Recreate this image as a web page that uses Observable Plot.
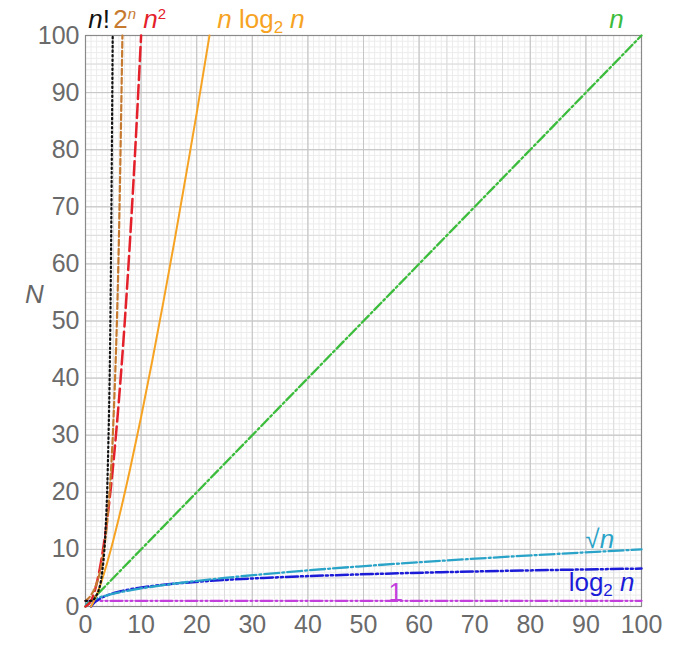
<!DOCTYPE html>
<html>
<head>
<meta charset="utf-8">
<script src="https://cdn.jsdelivr.net/npm/d3@7"></script>
<script src="https://cdn.jsdelivr.net/npm/@observablehq/plot@0.6"></script>
<style>
  html, body { margin: 0; padding: 0; background: #fff; }
</style>
</head>
<body>
<div id="chart"></div>
<script>
// ---- data ----
const tickValues = [0, 10, 20, 30, 40, 50, 60, 70, 80, 90, 100];

// n!
const factX = [0, 1, 2, 3, 3.5, 4, 4.5, 4.89];
const factY = [1, 1, 2, 6, 11.6, 24, 52.3, 100];
// 2^n
const expX = [0, 1, 2, 3, 4, 5, 6, 6.64];
const expY = [1, 2, 4, 8, 16, 32, 64, 100];
// n^2
const sqX = [0, 1, 2, 3, 4, 5, 6, 7, 8, 9, 10];
const sqY = [0, 1, 4, 9, 16, 25, 36, 49, 64, 81, 100];
// n log2 n
const nlogX = [1, 2, 3, 4, 5, 6, 8, 10, 12, 14, 16, 18, 20, 22.3];
const nlogY = [0, 2, 4.75, 8, 11.6, 15.5, 24, 33.2, 43, 53.3, 64, 75.1, 86.4, 100];
// n
const linX = [0, 100];
const linY = [0, 100];
// sqrt n
const sqrtX = [0, 0.25, 1, 2, 4, 9, 16, 25, 36, 49, 64, 81, 100];
const sqrtY = [0, 0.5, 1, 1.41, 2, 3, 4, 5, 6, 7, 8, 9, 10];
// log2 n
const logX = [1, 1.5, 2, 3, 4, 6, 8, 12, 16, 24, 32, 48, 64, 100];
const logY = [0, 0.585, 1, 1.585, 2, 2.585, 3, 3.585, 4, 4.585, 5, 5.585, 6, 6.64];
// 1
const constX = [0, 100];
const constY = [1, 1];

// curve labels (plain text, rich parts are built below)
const labelText  = ["n!", "2n", "n2", "n log2 n", "n", "√n", "log2 n", "1", "N"];
const labelX     = [0.5, 5.0, 10.4, 23.7, 94.2, 89.9, 86.9, 54.5, -9.2];
const labelY     = [101.4, 101.4, 101.4, 101.4, 101.4, 10.3, 2.8, 1.0, 53.1];
const labelColor = ["#111", "#c67a30", "#e4212b", "#f6a323", "#3cbc3c", "#2aa3c8", "#1c1cd8", "#c23fdc", "#666"];

// rich formatting of each label: [piece, style]  (i = italic, sup / sub)
const richParts = {
  "n!":       [["n", "i"], ["!", ""]],
  "2n":       [["2", ""], ["n", "sup i"]],
  "n2":       [["n", "i"], ["2", "sup"]],
  "n log2 n": [["n", "i"], [" log", ""], ["2", "sub"], [" n", "i"]],
  "n":        [["n", "i"]],
  "√n":       [["√", ""], ["n", "i"]],
  "log2 n":   [["log", ""], ["2", "sub"], [" n", "i"]],
  "1":        [["1", ""]],
  "N":        [["N", "i"]]
};

// ---- build tables ----
const zip = (xs, ys) => xs.map((x, i) => ({x, y: ys[i]}));
const series = [
  {data: zip(constX, constY), stroke: "#c23fdc", dash: "12 3 2 3 2 3", w: 2.3},
  {data: zip(logX, logY),     stroke: "#1c1cd8", dash: "12 3 2 3 2 3", w: 2.5},
  {data: zip(sqrtX, sqrtY),   stroke: "#2aa3c8", dash: "15 3 2 3", w: 2.3},
  {data: zip(linX, linY),     stroke: "#3cbc3c", dash: "10 3 2 3", w: 2.3},
  {data: zip(nlogX, nlogY),   stroke: "#f6a323", dash: null, w: 2},
  {data: zip(sqX, sqY),       stroke: "#e4212b", dash: "14 5", w: 2.5},
  {data: zip(expX, expY),     stroke: "#c67a30", dash: "6 3", w: 2.2},
  {data: zip(factX, factY),   stroke: "#111111", dash: "1.5 3", w: 2.2}
];
const labels = labelText.map((t, i) => ({
  text: t, x: labelX[i], y: labelY[i], color: labelColor[i],
  anchor: t === "N" ? "middle" : "start"
}));

const minorGrid = d3.range(0, 101, 1);
const midGrid = d3.range(0, 101, 5);

const chart = Plot.plot({
  width: 673,
  height: 645,
  marginLeft: 85,
  marginRight: 32,
  marginTop: 35,
  marginBottom: 39,
  x: {domain: [0, 100]},
  y: {domain: [0, 100]},
  style: {fontFamily: "'Liberation Sans', Arial, sans-serif", background: "#fff", overflow: "visible"},
  marks: [
    Plot.ruleX(minorGrid, {stroke: "#ececec", strokeWidth: 1}),
    Plot.ruleY(minorGrid, {stroke: "#ececec", strokeWidth: 1}),
    Plot.ruleX(midGrid, {stroke: "#dcdcdc", strokeWidth: 1}),
    Plot.ruleY(midGrid, {stroke: "#dcdcdc", strokeWidth: 1}),
    Plot.ruleX(tickValues, {stroke: "#c6c6c6", strokeWidth: 1}),
    Plot.ruleY(tickValues, {stroke: "#c6c6c6", strokeWidth: 1}),
    Plot.frame({stroke: "#8a8a8a", strokeWidth: 1.2}),
    Plot.axisX(tickValues, {tickSize: 0, tickPadding: 9, fontSize: 25, color: "#6a6a6a", label: null}),
    Plot.axisY(tickValues, {tickSize: 0, tickPadding: 6, fontSize: 25, color: "#6a6a6a", label: null}),
    ...series.map(s => Plot.line(s.data, {
      x: "x", y: "y", stroke: s.stroke, strokeWidth: s.w,
      strokeDasharray: s.dash ?? undefined, curve: "monotone-x"
    })),
    ...labels.map(d => Plot.text([d], {
      x: "x", y: "y", text: "text", fill: d.color, fontSize: 26,
      textAnchor: d.anchor, lineAnchor: "bottom"
    }))
  ]
});

// turn each plain label into real text with italic / raised / lowered pieces
const SVGNS = "http://www.w3.org/2000/svg";
chart.querySelectorAll("text").forEach(el => {
  const parts = richParts[el.textContent];
  if (!parts) return;
  while (el.firstChild) el.removeChild(el.firstChild);
  let shift = 0;
  for (const [s, style] of parts) {
    const ts = document.createElementNS(SVGNS, "tspan");
    ts.textContent = s;
    const isSup = style.includes("sup"), isSub = style.includes("sub");
    const target = isSup ? -9 : isSub ? 5 : 0;
    if (target !== shift) { ts.setAttribute("dy", target - shift); shift = target; }
    if (isSup) ts.setAttribute("font-size", 15);
    if (isSub) ts.setAttribute("font-size", 17);
    ts.setAttribute("font-style", style.includes("i") ? "italic" : "normal");
    el.appendChild(ts);
  }
});

document.getElementById("chart").appendChild(chart);
</script>
</body>
</html>
